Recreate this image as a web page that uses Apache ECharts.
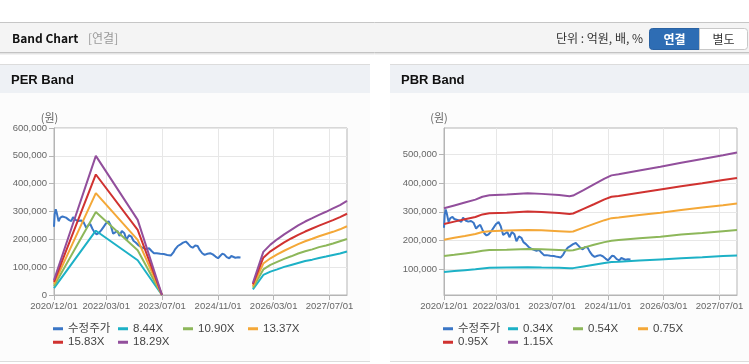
<!DOCTYPE html>
<html><head><meta charset="utf-8">
<script src="https://cdn.jsdelivr.net/npm/echarts@6/dist/echarts.min.js"></script>
<style>html,body{margin:0;padding:0;background:#fff}#c{width:749px;height:364px}</style>
</head><body><div id="c"></div>
<script>
// ---------- DATA ----------
const xTickDates = ['2020/12/01','2022/03/01','2023/07/01','2024/11/01','2026/03/01','2027/07/01'];
const xMinDate = '2020/12/01';
const xMaxDate = '2027/12/01';

const priceName = '수정주가';
const priceDates = ['2020-12-01','2020-12-07','2020-12-16','2020-12-25','2021-01-10','2021-01-25','2021-02-13','2021-03-01','2021-03-16','2021-04-10',
 '2021-05-01','2021-05-16','2021-06-07','2021-07-01','2021-07-25','2021-08-16','2021-09-07','2021-09-25','2021-10-13','2021-11-01',
 '2021-11-19','2021-12-07','2021-12-25','2022-01-16','2022-02-07','2022-03-01','2022-03-22','2022-04-10','2022-05-01','2022-05-19',
 '2022-06-07','2022-06-25','2022-07-16','2022-08-07','2022-08-25','2022-09-16','2022-10-07','2022-10-25','2022-11-16','2022-12-10',
 '2023-01-01','2023-01-25','2023-02-16','2023-03-10','2023-04-01','2023-04-22','2023-05-16','2023-06-16','2023-07-16','2023-08-16',
 '2023-09-16','2023-10-07','2023-10-25','2023-11-16','2023-12-10','2024-01-01','2024-01-25','2024-02-16','2024-03-07','2024-03-25',
 '2024-04-16','2024-05-07','2024-05-25','2024-06-16','2024-07-07','2024-08-01','2024-08-25','2024-09-16','2024-10-10','2024-11-01',
 '2024-11-19','2024-12-07','2024-12-25','2025-01-16','2025-02-07','2025-02-25','2025-03-13','2025-04-01','2025-04-25','2025-05-16'];
const priceValues = [245000,290000,308000,295000,265000,278000,282000,275000,278000,270000,
 265000,280000,270000,266000,268000,262000,242000,250000,255000,238000,
 225000,218000,222000,232000,245000,258000,265000,250000,220000,225000,
 230000,212000,230000,222000,198000,215000,210000,195000,188000,178000,
 172000,168000,165000,168000,158000,150000,150000,148000,147000,144000,
 142000,152000,165000,176000,182000,188000,192000,183000,174000,170000,
 178000,176000,162000,150000,144000,148000,150000,146000,138000,132000,
 140000,148000,146000,136000,132000,140000,138000,134000,136000,135000];

const perLabels = ['8.44X','10.90X','13.37X','15.83X','18.29X'];
const perBandDates = ['2020-12-01','2021-12-01','2022-12-01','2023-07-01','2024-08-01','2025-09-01','2025-12-01','2026-02-01','2026-04-01','2026-06-01',
 '2026-08-01','2026-10-01','2026-12-01','2027-02-01','2027-04-01','2027-06-01','2027-08-01','2027-10-01','2027-12-01'];
const per844  = [25000,231000,125000,0,null,20000,72000,84000,92000,101000,108000,115000,122000,127000,133000,138000,144000,149000,156000];
const per1090 = [32000,298000,161000,0,null,26000,92000,108000,119000,130000,139000,149000,157000,164000,172000,178000,185000,193000,201000];
const per1337 = [40000,366000,198000,0,null,32000,113000,132000,146000,159000,171000,183000,193000,202000,211000,219000,227000,236000,247000];
const per1583 = [47000,433000,234000,0,null,38000,134000,157000,173000,189000,203000,216000,228000,239000,249000,259000,269000,280000,292000];
const per1829 = [54000,500000,270000,0,null,43000,155000,181000,200000,218000,234000,250000,264000,276000,288000,299000,311000,323000,338000];

const pbrLabels = ['0.34X','0.54X','0.75X','0.95X','1.15X'];
const pbrBandDates = ['2020-12-01','2021-03-01','2021-06-01','2021-09-01','2021-11-01','2022-01-01','2022-06-01','2022-12-01','2023-04-01','2023-09-01',
 '2023-12-01','2024-01-01','2024-04-01','2024-07-01','2024-10-01','2024-12-01','2025-02-01','2025-08-01','2026-02-01','2026-08-01',
 '2027-02-01','2027-08-01','2027-12-01'];
const pbr034 = [92000,95000,98000,101000,104000,106000,107000,108000,107000,106000,105000,105000,111000,117000,123000,126000,127000,131000,135000,139000,143000,147000,149000];
const pbr054 = [147000,151000,156000,161000,165000,168000,169000,171000,170000,168000,166000,167000,176000,186000,195000,200000,202000,208000,214000,221000,227000,233000,237000];
const pbr075 = [203000,210000,216000,223000,230000,233000,235000,237000,236000,233000,231000,232000,245000,258000,271000,278000,280000,289000,297000,306000,315000,323000,329000];
const pbr095 = [258000,266000,274000,282000,291000,295000,297000,301000,299000,296000,292000,294000,310000,326000,343000,352000,355000,366000,377000,388000,399000,410000,417000];
const pbr115 = [312000,322000,332000,342000,352000,357000,360000,364000,362000,358000,354000,356000,375000,395000,415000,426000,430000,443000,456000,470000,483000,496000,505000];

const perYTicks = [0,100000,200000,300000,400000,500000,600000];
const pbrYTicks = [100000,200000,300000,400000,500000];

// ---------- STYLE ----------
const FONT = "'Liberation Sans','Noto Sans CJK KR',sans-serif";
const KFONT = "'Noto Sans CJK KR','Liberation Sans',sans-serif";
const cPrice = '#3a76c6';
const bandColors = ['#1db1c6','#8db75a','#f4a838','#d03230','#924f9c'];
const gridColor = '#e7e7e7', frameColor = '#b5b5b5';

function ts(s){ const p = s.split(/[\/-]/).map(Number); return +new Date(p[0], p[1]-1, p[2]); }
function pad(n){ return (n<10?'0':'')+n; }
function fmtDate(v){ const d = new Date(v); return d.getFullYear()+'/'+pad(d.getMonth()+1)+'/'+pad(d.getDate()); }
function zip(d, v){ return d.map((x,i)=>[ts(x), v[i]]); }

const tickTs = xTickDates.map(ts);
const grids = [
  {left:54, top:128, width:293, height:167},
  {left:444, top:128, width:293, height:167}
];

function xAxis(i){
  return {type:'value', gridIndex:i, min:ts(xMinDate), max:ts(xMaxDate), scale:true,
    axisLine:{show:true, onZero:false, lineStyle:{color:frameColor}},
    axisTick:{show:true, length:5, lineStyle:{color:frameColor}, customValues:tickTs},
    axisLabel:{customValues:tickTs, formatter:fmtDate, fontSize:9.5, color:'#666', margin:7, fontFamily:FONT},
    splitLine:{show:true, lineStyle:{color:gridColor}}};
}
function yAxis(i, min, max, ticks){
  return {type:'value', gridIndex:i, min:min, max:max,
    axisLine:{show:true, onZero:false, lineStyle:{color:frameColor}},
    axisTick:{show:true, length:5, lineStyle:{color:frameColor}, customValues:ticks},
    axisLabel:{customValues:ticks, fontSize:9.5, color:'#666', margin:7, fontFamily:FONT,
      formatter:v=>Number(v).toLocaleString('en-US')},
    splitLine:{show:true, lineStyle:{color:gridColor}}};
}
function line(name, dates, vals, color, gi){
  return {type:'line', name:name, xAxisIndex:gi, yAxisIndex:gi, data:zip(dates, vals),
    showSymbol:false, symbol:'none', connectNulls:false, animation:false,
    lineStyle:{width:2, color:color}, itemStyle:{color:color}, emphasis:{disabled:true}};
}

const perBands = [per844, per1090, per1337, per1583, per1829];
const pbrBands = [pbr034, pbr054, pbr075, pbr095, pbr115];
const series = [line(priceName, priceDates, priceValues, cPrice, 0)];
perBands.forEach((b,i)=>series.push(line(perLabels[i], perBandDates, b, bandColors[i], 0)));
series.push(line(priceName, priceDates, priceValues, cPrice, 1));
pbrBands.forEach((b,i)=>series.push(line(pbrLabels[i], pbrBandDates, b, bandColors[i], 1)));

// legends: 4 columns grid
const legends = [];
function addLegends(names, x0){
  names.forEach((n,i)=>{
    const col = i % 4, row = Math.floor(i/4);
    legends.push({data:[n], left:x0 + col*65, top:(row ? 336.5 : 323), padding:0,
      icon:'rect', itemWidth:10, itemHeight:3, selectedMode:false,
      textStyle:{fontSize:11.5, color:'#444', fontFamily:FONT}});
  });
}
addLegends([priceName].concat(perLabels), 53);
addLegends([priceName].concat(pbrLabels), 443);

function txt(x, y, text, font, fill, align){
  return {type:'text', x:x, y:y, z:20, style:{text:text, font:font, fill:fill, align:align||'left', verticalAlign:'middle'}};
}
function rect(x, y, w, h, fill, stroke, r, z){
  return {type:'rect', z:z==null?-10:z, shape:{x:x, y:y, width:w, height:h, r:r||0}, style:{fill:fill, stroke:stroke||null, lineWidth:1}};
}
function hline(x1, x2, y, color){
  return {type:'line', z:-5, shape:{x1:x1, y1:y, x2:x2, y2:y}, style:{stroke:color, lineWidth:1}};
}

const graphic = [
  rect(0, 22, 749, 31, '#f4f4f4'),
  hline(0, 749, 22.5, '#c6c6c6'),
  hline(0, 749, 52.5, '#c3c3c3'),
  hline(0, 749, 53.5, '#e4e4e4'),
  hline(0, 749, 54.5, '#f2f2f2'),
  txt(12, 38, 'Band Chart', 'bold 12px ' + KFONT, '#111'),
  txt(88, 38, '[연결]', '12px ' + KFONT, '#999'),
  txt(643, 38, '단위 : 억원, 배, %', '12px ' + KFONT, '#333', 'right'),
  rect(649.5, 28.5, 50, 21, '#2e6db4', '#2a62a3', [3,0,0,3], 5),
  rect(699.5, 28.5, 48, 21, '#ffffff', '#c8c8c8', [0,3,3,0], 5),
  txt(674.5, 39, '연결', 'bold 12px ' + KFONT, '#fff', 'center'),
  txt(723.5, 39, '별도', '12px ' + KFONT, '#333', 'center'),
  // panels
  rect(0, 64, 370, 298, '#fcfcfc'),
  rect(0, 64, 370, 29, '#eef1f5'),
  hline(0, 370, 64.5, '#dcdcdc'),
  hline(0, 370, 361.5, '#dcdcdc'),
  rect(390, 64, 359, 298, '#fcfcfc'),
  rect(390, 64, 359, 29, '#eef1f5'),
  hline(390, 749, 64.5, '#dcdcdc'),
  hline(390, 749, 361.5, '#dcdcdc'),
  txt(11, 80, 'PER Band', 'bold 13px ' + FONT, '#111'),
  txt(401, 80, 'PBR Band', 'bold 13px ' + FONT, '#111'),
  txt(49.5, 118, '(원)', '11px ' + KFONT, '#666', 'center'),
  txt(439, 118, '(원)', '11px ' + KFONT, '#666', 'center')
];

const chart = echarts.init(document.getElementById('c'), null, {renderer:'canvas'});
chart.setOption({
  animation:false,
  backgroundColor:'#ffffff',
  grid: grids.map(g=>Object.assign({show:true, backgroundColor:'#ffffff', borderColor:frameColor, borderWidth:1, outerBoundsMode:'none', containLabel:false}, g)),
  xAxis:[xAxis(0), xAxis(1)],
  yAxis:[yAxis(0, 0, 600000, perYTicks), yAxis(1, 12000, 590000, pbrYTicks)],
  legend: legends,
  graphic: graphic,
  series: series
});
</script></body></html>
